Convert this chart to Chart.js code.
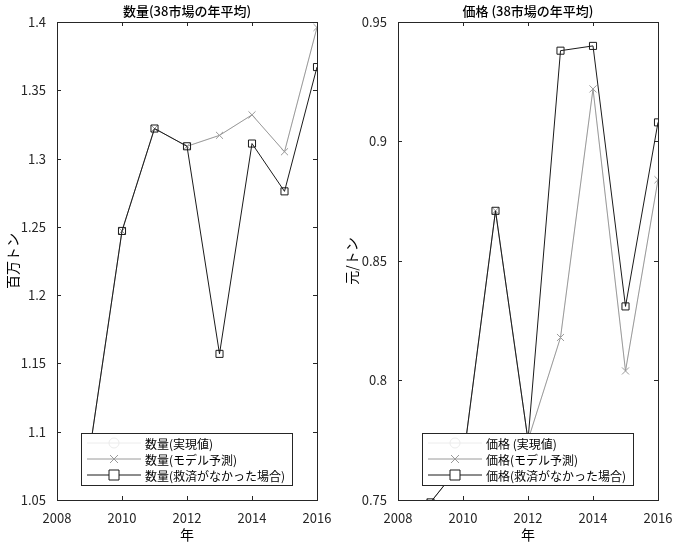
<!DOCTYPE html>
<html><head><meta charset="utf-8">
<script src="https://cdn.jsdelivr.net/npm/chart.js@4"></script>
<style>
body{margin:0;background:#fff;width:680px;height:547px;position:relative;overflow:hidden}
.c{position:absolute;top:0;width:340px;height:547px}
</style></head><body>
<div class="c" style="left:0"><canvas id="q"></canvas></div>
<div class="c" style="left:340px"><canvas id="p"></canvas></div>
<script>
// データ
const years = [2009, 2010, 2011, 2012, 2013, 2014, 2015, 2016];
const qtyActual = [1.085, 1.247, 1.322, 1.309, 1.317, 1.332, 1.305, 1.396];
const qtyModel  = [1.085, 1.247, 1.322, 1.309, 1.317, 1.332, 1.305, 1.396];
const qtyNoAid  = [1.085, 1.247, 1.322, 1.309, 1.157, 1.311, 1.276, 1.367];
const prcActual = [0.749, 0.766, 0.871, 0.775, 0.818, 0.922, 0.804, 0.884];
const prcModel  = [0.749, 0.766, 0.871, 0.775, 0.818, 0.922, 0.804, 0.884];
const prcNoAid  = [0.749, 0.766, 0.871, 0.775, 0.938, 0.940, 0.831, 0.908];
const qtyTicks = [1.05, 1.1, 1.15, 1.2, 1.25, 1.3, 1.35, 1.4];
const prcTicks = [0.75, 0.8, 0.85, 0.9, 0.95];

const FONT = '"Noto Sans CJK JP", "Noto Sans", sans-serif';
const pts = (arr) => arr.map((v, i) => ({ x: years[i], y: v }));

// MATLAB風の枠・内向き目盛・凡例・タイトル
const boxPlugin = {
  id: 'box',
  afterDraw(chart, args, o) {
    const { ctx, chartArea: a, scales: { x, y } } = chart;
    ctx.save();
    ctx.strokeStyle = '#262626'; ctx.lineWidth = 1;
    ctx.strokeRect(a.left + .5, a.top + .5, a.right - a.left, a.bottom - a.top);
    ctx.beginPath();
    x.ticks.forEach(t => { const px = Math.round(x.getPixelForValue(t.value)) + .5;
      ctx.moveTo(px, a.bottom); ctx.lineTo(px, a.bottom - 4); ctx.moveTo(px, a.top); ctx.lineTo(px, a.top + 4); });
    y.ticks.forEach(t => { const py = Math.round(y.getPixelForValue(t.value)) + .5;
      ctx.moveTo(a.left, py); ctx.lineTo(a.left + 4, py); ctx.moveTo(a.right, py); ctx.lineTo(a.right - 4, py); });
    ctx.stroke();
    ctx.fillStyle = '#000'; ctx.textAlign = 'center';
    ctx.font = '500 13px ' + FONT;
    ctx.fillText(o.title, (a.left + a.right) / 2, 16);
    ctx.font = '14px ' + FONT;
    ctx.fillText('年', (a.left + a.right) / 2, 540);
    ctx.save(); ctx.translate(o.ylx, (a.top + a.bottom) / 2); ctx.rotate(-Math.PI / 2);
    ctx.fillText(o.ylabel, 0, 0); ctx.restore();
    // 凡例
    const lx = a.left + o.legX, ly = 433, lw = o.legW, lh = 52;
    ctx.fillStyle = '#fff'; ctx.fillRect(lx, ly, lw, lh);
    ctx.strokeStyle = '#262626'; ctx.strokeRect(lx + .5, ly + .5, lw, lh);
    ctx.textAlign = 'left'; ctx.textBaseline = 'middle'; ctx.font = '12px ' + FONT;
    chart.data.datasets.forEach((d, i) => {
      const yy = ly + 10 + i * 16;
      ctx.strokeStyle = d.borderColor; ctx.beginPath(); ctx.moveTo(lx + 6, yy); ctx.lineTo(lx + 60, yy); ctx.stroke();
      const cx = lx + 33;
      ctx.beginPath();
      if (d.pointStyle === 'circle') ctx.arc(cx, yy, 5, 0, Math.PI * 2);
      else if (d.pointStyle === 'crossRot') { ctx.moveTo(cx - 4, yy - 4); ctx.lineTo(cx + 4, yy + 4); ctx.moveTo(cx + 4, yy - 4); ctx.lineTo(cx - 4, yy + 4); }
      else ctx.rect(cx - 5, yy - 5, 10, 10);
      ctx.fillStyle = '#fff'; if (d.pointStyle === 'rect') ctx.fill(); ctx.stroke();
      ctx.fillStyle = '#000'; ctx.fillText(d.label, lx + 64, yy + 1);
    });
    ctx.restore();
  }
};

function makeChart(id, labels, a, m, n, ticks, opt) {
  const ds = (label, data, color, style, r, order) => ({
    label, data: pts(data), borderColor: color, pointBorderColor: color, backgroundColor: 'transparent',
    pointBackgroundColor: 'rgba(0,0,0,0)', pointStyle: style, pointRadius: r, borderWidth: 1, pointBorderWidth: 1, tension: 0, order
  });
  return new Chart(document.getElementById(id), {
    type: 'line',
    data: { datasets: [
      ds(labels[0], a, '#ececec', 'circle', 0, 3),
      ds(labels[1], m, '#9a9a9a', 'crossRot', 5, 2),
      ds(labels[2], n, '#1a1a1a', 'rect', 5, 1),
    ] },
    options: {
      animation: false, responsive: false,
      layout: { padding: { top: 22, right: opt.padR, bottom: 0, left: 0 } },
      plugins: { legend: { display: false }, tooltip: { enabled: false }, box: opt },
      scales: {
        x: { type: 'linear', min: 2008, max: 2016, grid: { display: false }, border: { display: false },
          ticks: { stepSize: 2, color: '#262626', font: { size: 13, family: FONT }, maxRotation: 0, padding: 2, callback: v => String(v) },
          afterFit: s => { s.height = 47; } },
        y: { min: ticks[0], max: ticks[ticks.length - 1], grid: { display: false }, border: { display: false },
          afterBuildTicks: s => { s.ticks = ticks.map(v => ({ value: v })); },
          ticks: { color: '#262626', font: { size: 13, family: FONT }, padding: 3, callback: v => String(+v.toFixed(3)) },
          afterFit: s => { s.width = opt.yw; } }
      }
    },
    plugins: [boxPlugin]
  });
}

for (const id of ['q', 'p']) { const c = document.getElementById(id); c.width = 340; c.height = 547; }
makeChart('q', ['数量(実現値)', '数量(モデル予測)', '数量(救済がなかった場合)'], qtyActual, qtyModel, qtyNoAid, qtyTicks,
  { title: '数量(38市場の年平均)', ylabel: '百万トン', ylx: 18, legX: 24, legW: 211, yw: 57, padR: 23 });
makeChart('p', ['価格 (実現値)', '価格(モデル予測)', '価格(救済がなかった場合)'], prcActual, prcModel, prcNoAid, prcTicks,
  { title: '価格 (38市場の年平均)', ylabel: '元/トン', ylx: 17, legX: 24, legW: 211, yw: 58, padR: 22 });
</script>
</body></html>
